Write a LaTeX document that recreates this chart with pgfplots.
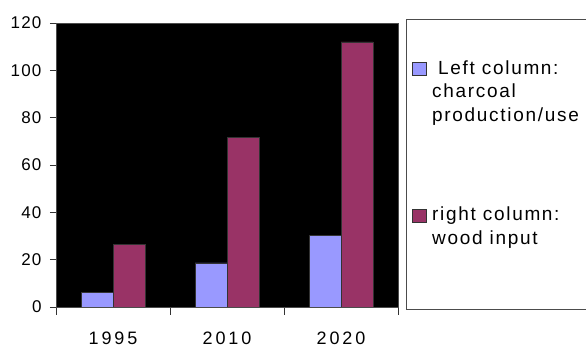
\documentclass[border=0pt]{standalone}
\usepackage{pgfplots}
\pgfplotsset{compat=1.18}
\usepackage{fontspec}
\setmainfont{Liberation Sans}
\newfontfamily\lsfont[LetterSpace=16]{Liberation Sans}
\newfontfamily\lgfont[LetterSpace=9]{Liberation Sans}
\newfontfamily\ytfont[LetterSpace=7]{Liberation Sans}
\definecolor{barblue}{HTML}{9999FF}
\definecolor{barred}{HTML}{993366}
\begin{document}
\begin{tikzpicture}
\path[use as bounding box] (0pt,0pt) rectangle (586pt,347pt);
\begin{axis}[
  at={(56pt,40pt)}, anchor=south west,
  scale only axis, width=342pt, height=284pt,
  xmin=-0.5, xmax=2.5, ymin=0, ymax=120,
  ytick={0,20,...,120},
  xtick={0,1,2}, xticklabels={1995,2010,2020},
  minor xtick={-0.5,0.5,1.5,2.5},
  tick pos=left, tick align=outside,
  major tick length=6pt, minor tick length=8pt,
  major x tick style={draw=none},
  tick style={black!80, line width=0.8pt},
  axis line style={black!70, line width=0.8pt},
  axis background/.style={fill=black},
  ybar=0pt, bar width=32pt,
  /pgf/number format/assume math mode=true,
  yticklabel style={font=\ytfont\fontsize{17}{20}\selectfont, xshift=-5pt},
  xticklabel style={font=\lsfont\fontsize{18}{20}\selectfont, yshift=-15pt},
  legend style={at={(1.0409,0.8694)}, anchor=north west, draw=none, fill=none,
    inner sep=0pt, row sep=131pt, column sep=6pt,
    font=\lgfont\fontsize{19}{23.5}\selectfont,
    cells={anchor=base west},
    nodes={inner sep=0pt}},
  legend image code/.code={\draw[#1, draw=black!80] (0pt,-1.5pt) rectangle (13.5pt,11.5pt);},
]
\addplot[fill=barblue, draw=black!80] coordinates {(0,6.3) (1,18.6) (2,30.4)};
\addlegendentry{\vtop{\hbox{\hspace*{6pt}Left colum\kern1.5pt n:}\hbox{charcoal}\hbox{production/use}}}
\addplot[fill=barred, draw=black!80] coordinates {(0,26.6) (1,71.8) (2,112)};
\addlegendentry{\vtop{\hbox{right colum\kern1.5pt n:}\hbox{wood input}}}
\end{axis}
\draw[black!70, line width=0.8pt] (586pt,327.7pt) -- (406pt,327.7pt) -- (406pt,38pt) -- (586pt,38pt);
\end{tikzpicture}
\end{document}
